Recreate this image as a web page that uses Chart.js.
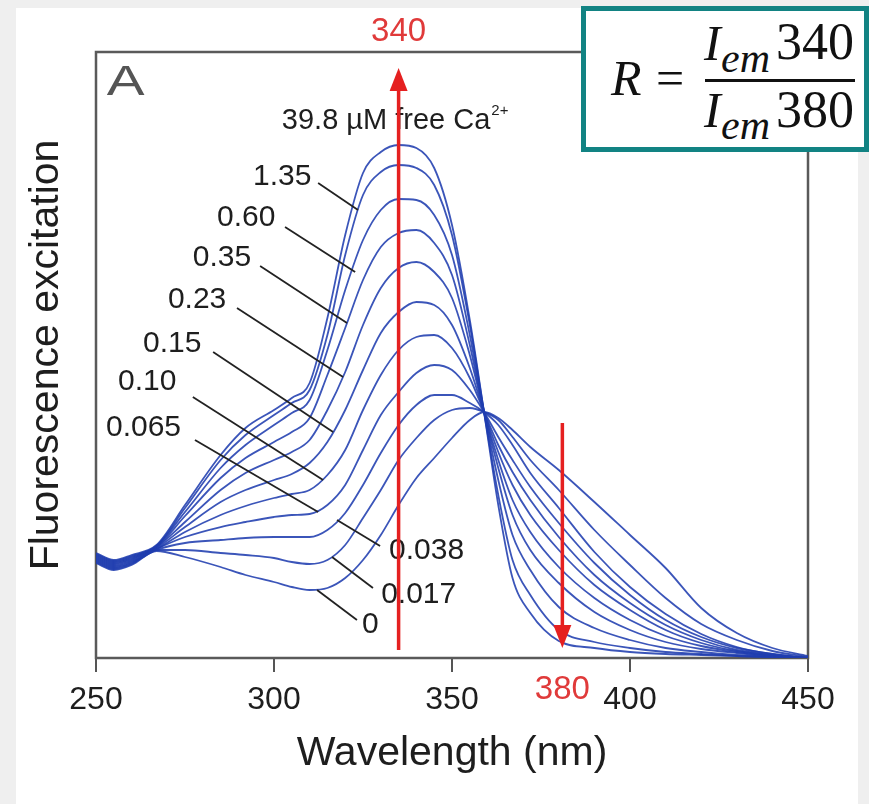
<!DOCTYPE html>
<html>
<head>
<meta charset="utf-8">
<script src="https://cdn.jsdelivr.net/npm/chart.js@4.4.1/dist/chart.umd.min.js"></script>
<style>
  html, body { margin: 0; padding: 0; }
  body { width: 869px; height: 804px; background: #efefef; position: relative; overflow: hidden; }
  #panel { position: absolute; left: 16px; top: 8px; width: 842px; height: 796px; background: #fff; }
  #chart { position: absolute; left: 0; top: 0; }
  #formula { position: absolute; left: 581px; top: 6px; width: 288px; height: 146px; box-sizing: border-box; border: 5px solid #128383; background: #fff; }
  .f { position: absolute; font-family: "Liberation Serif", "DejaVu Serif", serif; line-height: 1; white-space: nowrap; color: #111; }
  .it { font-style: italic; }
  #bar { position: absolute; left: 705px; top: 79px; width: 150px; height: 3px; background: #111; }
</style>
</head>
<body>
<div id="panel"></div>
<canvas id="chart" width="869" height="804"></canvas>
<div id="formula"></div>
<span class="f it" style="left:611px; top:53px; font-size:50px">R</span>
<span class="f" style="left:656px; top:53px; font-size:50px">=</span>
<span class="f it" style="left:704px; top:18px; font-size:50px">I</span>
<span class="f it" style="left:721px; top:37px; font-size:42px">em</span>
<span class="f" style="left:776px; top:16px; font-size:52px">340</span>
<div id="bar"></div>
<span class="f it" style="left:704px; top:85px; font-size:50px">I</span>
<span class="f it" style="left:721px; top:104px; font-size:42px">em</span>
<span class="f" style="left:776px; top:84px; font-size:52px">380</span>

<script>
// excitation wavelength (nm)
const wavelengths = [250, 255, 260, 267, 275, 285, 292, 300, 305, 310, 315, 320, 325, 330, 335, 340, 345, 350, 355, 359, 363, 367, 372, 380, 390, 400, 410, 420, 430, 440, 450];

// fluorescence (a.u.) for each free Ca2+ level (uM)
const ca0    = [95, 88, 93, 107, 101, 91, 83, 76, 71, 68, 70, 80, 98, 123, 153, 180, 200, 220, 238, 246, 240, 228, 211, 188, 156, 123, 90, 50, 25, 10, 2];
const ca0017 = [96, 89, 94, 108, 108, 105, 103, 100, 96, 94, 98, 113, 140, 168, 198, 220, 238, 248, 250, 246, 238, 221, 198, 168, 128, 93, 60, 34, 18, 7, 1];
const ca0038 = [97, 90, 95, 108, 115, 118, 120, 121, 121, 121, 128, 145, 173, 205, 233, 253, 263, 263, 255, 246, 233, 213, 185, 150, 106, 71, 44, 24, 11, 4, 0];
const ca0065 = [98, 91, 96, 109, 121, 131, 136, 141, 143, 144, 153, 173, 208, 243, 266, 285, 293, 288, 268, 246, 221, 198, 171, 135, 95, 63, 38, 21, 10, 4, 0];
const ca010  = [99, 92, 97, 109, 126, 143, 152, 160, 164, 168, 183, 208, 248, 283, 308, 321, 323, 310, 280, 246, 213, 186, 158, 121, 83, 55, 33, 18, 8, 3, 0];
const ca015  = [100, 93, 98, 110, 131, 156, 168, 178, 184, 195, 216, 248, 288, 325, 346, 356, 353, 333, 290, 246, 206, 173, 143, 108, 73, 48, 28, 15, 7, 3, 0];
const ca023  = [101, 94, 99, 111, 136, 168, 185, 198, 206, 218, 248, 286, 333, 370, 390, 396, 386, 360, 303, 246, 198, 158, 126, 91, 60, 38, 22, 12, 6, 2, 0];
const ca035  = [102, 95, 100, 111, 142, 180, 200, 216, 226, 240, 283, 330, 378, 411, 425, 428, 415, 383, 313, 246, 190, 143, 108, 75, 46, 28, 16, 9, 5, 2, 0];
const ca060  = [103, 96, 101, 112, 146, 190, 213, 233, 245, 258, 308, 368, 418, 448, 459, 458, 443, 403, 323, 246, 178, 123, 88, 51, 30, 18, 10, 6, 3, 1, 0];
const ca135  = [104, 97, 102, 112, 150, 198, 223, 243, 255, 268, 323, 403, 463, 486, 493, 490, 473, 423, 333, 246, 163, 98, 63, 28, 16, 10, 6, 4, 2, 1, 0];
const ca398  = [105, 98, 103, 113, 153, 203, 230, 248, 260, 275, 340, 423, 485, 506, 513, 510, 490, 433, 338, 246, 153, 80, 45, 17, 10, 6, 4, 3, 2, 1, 0];

const seriesNames = ["0", "0.017", "0.038", "0.065", "0.10", "0.15", "0.23", "0.35", "0.60", "1.35", "39.8"];
const seriesValues = [ca0, ca0017, ca0038, ca0065, ca010, ca015, ca023, ca035, ca060, ca135, ca398];

const xTicks = [250, 300, 350, 400, 450];

// curve labels: text, label anchor [nm, a.u.], leader start, leader end on curve
const curveLabels = [
  { text: "1.35",  at: [294.1, 481], from: [312.4, 475], to: [323.6, 448] },
  { text: "0.60",  at: [284.0, 440], from: [303.1, 431], to: [322.8, 386] },
  { text: "0.35",  at: [277.2, 400], from: [296.1, 392], to: [320.5, 335] },
  { text: "0.23",  at: [270.2, 358], from: [289.6, 350], to: [319.4, 281] },
  { text: "0.15",  at: [263.2, 314], from: [282.9, 306], to: [316.6, 226] },
  { text: "0.10",  at: [256.2, 276], from: [277.2, 261], to: [313.8, 178] },
  { text: "0.065", at: [252.8, 230], from: [277.8, 218], to: [312.4, 146] },
  { text: "0.038", at: [332.3, 107], from: [329.8, 112], to: [317.7, 138] },
  { text: "0.017", at: [330.1, 63],  from: [327.8, 70],  to: [316.3, 101] },
  { text: "0",     at: [324.7, 33],  from: [323.3, 38],  to: [312.1, 68] }
];

// red arrows: wavelength, start value, tip value, label and label position
const arrows = [
  { x: 335, from: 8, to: 590, text: "340", labelY: 626 },
  { x: 381, from: 235, to: 10, text: "380", labelY: -32 }
];

const FONT = '"Liberation Sans", Arial, sans-serif';
Chart.defaults.font.family = FONT;

const datasets = seriesValues.map((vals, i) => ({
  label: seriesNames[i],
  data: wavelengths.map((w, j) => ({ x: w, y: vals[j] })),
  borderColor: "rgba(32, 62, 175, 0.88)",
  borderWidth: 1.8,
  pointRadius: 0,
  fill: false,
  cubicInterpolationMode: "monotone",
}));

const annotations = {
  id: "annotations",
  beforeDatasetsDraw(chart) {
    const { ctx, chartArea: a } = chart;
    ctx.save();
    ctx.strokeStyle = "#5a5a5a";
    ctx.lineWidth = 2.5;
    ctx.strokeRect(a.left, a.top, a.right - a.left, a.bottom - a.top);
    ctx.restore();
  },
  afterDatasetsDraw(chart) {
    const { ctx } = chart;
    const xs = chart.scales.x, ys = chart.scales.y;
    const px = (v) => xs.getPixelForValue(v);
    const py = (v) => ys.getPixelForValue(v);
    ctx.save();

    // leader lines and concentration labels
    ctx.strokeStyle = "#222";
    ctx.lineWidth = 1.8;
    curveLabels.forEach((l) => {
      ctx.beginPath();
      ctx.moveTo(px(l.from[0]), py(l.from[1]));
      ctx.lineTo(px(l.to[0]), py(l.to[1]));
      ctx.stroke();
    });
    ctx.fillStyle = "#1e1e1e";
    ctx.font = "30px " + FONT;
    ctx.textAlign = "left";
    ctx.textBaseline = "middle";
    curveLabels.forEach((l) => {
      ctx.fillText(l.text, px(l.at[0]), py(l.at[1]));
    });

    // panel letter
    ctx.save();
    ctx.fillStyle = "#555";
    ctx.font = "42px " + FONT;
    ctx.textBaseline = "alphabetic";
    ctx.translate(px(253), py(563));
    ctx.scale(1.35, 1);
    ctx.fillText("A", 0, 0);
    ctx.restore();

    // top note
    ctx.font = "29px " + FONT;
    ctx.fillStyle = "#1e1e1e";
    const note = "39.8 \u00B5M free Ca";
    const nx = px(302.2), ny = py(537);
    ctx.fillText(note, nx, ny);
    const w = ctx.measureText(note).width;
    ctx.font = "15px " + FONT;
    ctx.fillText("2+", nx + w + 1, ny - 10);

    // red arrows
    ctx.strokeStyle = "#e52020";
    ctx.fillStyle = "#e52020";
    ctx.lineWidth = 3.5;
    arrows.forEach((ar) => {
      const x = px(ar.x), y0 = py(ar.from), y1 = py(ar.to);
      const dir = y1 < y0 ? -1 : 1;
      const head = 23;
      ctx.beginPath();
      ctx.moveTo(x, y0);
      ctx.lineTo(x, y1 - dir * head);
      ctx.stroke();
      ctx.beginPath();
      ctx.moveTo(x, y1);
      ctx.lineTo(x - 9, y1 - dir * head);
      ctx.lineTo(x + 9, y1 - dir * head);
      ctx.closePath();
      ctx.fill();
    });
    ctx.fillStyle = "#e03a3a";
    ctx.font = "33px " + FONT;
    ctx.textAlign = "center";
    arrows.forEach((ar) => {
      ctx.fillText(ar.text, px(ar.x), py(ar.labelY));
    });

    ctx.restore();
  },
};

const chart = new Chart(document.getElementById("chart").getContext("2d"), {
  type: "line",
  data: { datasets: datasets },
  options: {
    responsive: false,
    animation: false,
    layout: { padding: { left: 0, top: 52, right: 61, bottom: 0 } },
    plugins: { legend: { display: false }, tooltip: { enabled: false } },
    scales: {
      x: {
        type: "linear",
        min: 250,
        max: 450,
        afterFit: (s) => { s.height = 146; },
        afterBuildTicks: (s) => { s.ticks = xTicks.map((v) => ({ value: v })); },
        ticks: { padding: 9, color: "#1e1e1e", font: { size: 32 }, maxRotation: 0, autoSkip: false },
        grid: { drawOnChartArea: false, drawTicks: true, tickLength: 14, color: "#555", lineWidth: 2 },
        border: { display: false },
        title: { display: true, text: "Wavelength (nm)", color: "#1e1e1e", font: { size: 41 }, padding: { top: 0, bottom: 26 } },
      },
      y: {
        min: 0,
        max: 606,
        afterFit: (s) => { s.width = 96; },
        ticks: { display: false },
        grid: { display: false },
        border: { display: false },
        title: { display: true, text: "Fluorescence excitation", color: "#1e1e1e", font: { size: 41 }, padding: { top: 22, bottom: 0 } },
      },
    },
  },
  plugins: [annotations],
});
</script>
</body>
</html>
